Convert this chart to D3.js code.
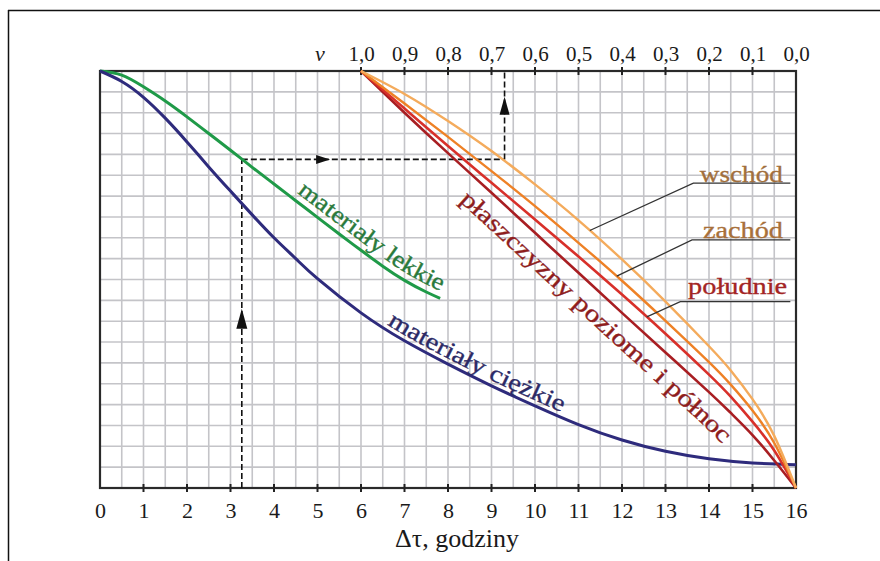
<!DOCTYPE html>
<html><head><meta charset="utf-8">
<script src="https://cdn.jsdelivr.net/npm/d3@7"></script>
<style>body{margin:0;background:#fff}svg{display:block}</style>
</head><body><svg id="c" width="880" height="561"></svg>
<script>
// ---------- data ----------
const xTicks = d3.range(0, 17);               // Δτ, godziny
const vTicks = [1.0,0.9,0.8,0.7,0.6,0.5,0.4,0.3,0.2,0.1,0.0];

const tauLight = [0,0.5,1,1.5,2,2.5,3,3.5,4,4.5,5,5.5,6,6.5,7,7.5,7.82];
const valLight = [1,0.99,0.962,0.928,0.89,0.85,0.81,0.769,0.729,0.689,0.649,0.609,0.57,0.532,0.498,0.47,0.455];

const tauHeavy = [0,0.5,1,1.5,2,2.5,3,3.5,4,4.5,5,6,7,8,9,10,11,12,13,14,15,16];
const valHeavy = [1,0.975,0.937,0.887,0.83,0.77,0.712,0.655,0.6,0.55,0.502,0.42,0.353,0.297,0.245,0.197,0.152,0.115,0.088,0.07,0.06,0.056];

const tauV = [6,7,8,9,10,11,12,13,14,14.5,15,15.5,16];
const valWschod   = [1,0.945,0.88,0.808,0.728,0.642,0.548,0.447,0.34,0.282,0.213,0.125,0];
const valZachod   = [1,0.922,0.842,0.76,0.676,0.588,0.497,0.401,0.302,0.248,0.186,0.108,0];
const valPoludnie = [1,0.91,0.82,0.732,0.644,0.555,0.464,0.37,0.272,0.219,0.159,0.09,0];
const valPoziome  = [1,0.9,0.803,0.708,0.612,0.516,0.42,0.325,0.23,0.18,0.127,0.066,0];

// example reading (dashed guide)
const guideTau = [3.26, 9.3];
const guideVal = 0.788;

// ---------- layout ----------
const svg = d3.select("#c");
const L = 100, R = 796, T = 71, B = 488;
const x = d3.scaleLinear().domain([0,16]).range([L,R]);
const y = d3.scaleLinear().domain([0,1]).range([B,T]);
const vx = d3.scaleLinear().domain([1,0]).range([x(6), x(16)]);
const serif = "'Liberation Serif','Times New Roman',serif";

// outer frame
svg.append("line").attr("x1",8.5).attr("x2",8.5).attr("y1",10).attr("y2",561).attr("stroke","#111").attr("stroke-width",1.5);
svg.append("line").attr("x1",8).attr("x2",880).attr("y1",10.5).attr("y2",10.5).attr("stroke","#111").attr("stroke-width",1.5);

// grid
const g = svg.append("g");
g.selectAll(".gv").data(d3.range(0.5,16,0.5)).join("line")
  .attr("x1",d=>x(d)).attr("x2",d=>x(d)).attr("y1",T).attr("y2",B)
  .attr("stroke","#c4c4c8").attr("stroke-width",1.6);
g.selectAll(".gh").data(d3.range(1,20).map(i=>i*0.05)).join("line")
  .attr("y1",d=>y(d)).attr("y2",d=>y(d)).attr("x1",L).attr("x2",R)
  .attr("stroke","#c4c4c8").attr("stroke-width",1.6);

// frame
svg.append("rect").attr("x",L).attr("y",T).attr("width",R-L).attr("height",B-T)
  .attr("fill","none").attr("stroke","#2a2a2a").attr("stroke-width",2.2);

// bottom axis
const xAxis = d3.axisBottom(x).tickValues(xTicks).tickSize(0).tickPadding(14);
const ax = svg.append("g").attr("transform",`translate(0,${B})`).call(xAxis);
ax.select(".domain").remove();
ax.selectAll("text").attr("font-family",serif).attr("font-size",22).attr("fill","#1a1a1a");
svg.selectAll(".bt").data(xTicks.slice(1,16)).join("line")
  .attr("x1",d=>x(d)).attr("x2",d=>x(d)).attr("y1",B-4).attr("y2",B+4).attr("stroke","#222").attr("stroke-width",2);

// top axis (v)
const vAxis = d3.axisTop(vx).tickValues(vTicks).tickSize(0).tickPadding(10)
  .tickFormat(d=>d3.format(".1f")(d).replace(".",","));
const at = svg.append("g").attr("transform",`translate(0,${T})`).call(vAxis);
at.select(".domain").remove();
at.selectAll("text").attr("font-family",serif).attr("font-size",21).attr("fill","#1a1a1a");
svg.selectAll(".tt").data(vTicks.slice(0,10)).join("line")
  .attr("x1",d=>vx(d)).attr("x2",d=>vx(d)).attr("y1",T-4).attr("y2",T+4).attr("stroke","#222").attr("stroke-width",2);
svg.append("text").attr("x",vx(1)-41).attr("y",T-10).attr("text-anchor","middle")
  .attr("font-family",serif).attr("font-style","italic").attr("font-size",22).attr("fill","#1a1a1a").text("v");

// axis title
svg.append("text").attr("x",457).attr("y",547).attr("text-anchor","middle")
  .attr("font-family",serif).attr("font-size",26).attr("fill","#1a1a1a").text("Δτ, godziny");

// dashed guide
const dash = svg.append("g").attr("stroke","#111").attr("stroke-width",1.6).attr("stroke-dasharray","6,3").attr("fill","none");
dash.append("line").attr("x1",x(guideTau[0])).attr("x2",x(guideTau[0])).attr("y1",y(0)).attr("y2",y(guideVal));
dash.append("line").attr("x1",x(guideTau[0])).attr("x2",x(guideTau[1])).attr("y1",y(guideVal)).attr("y2",y(guideVal));
dash.append("line").attr("x1",x(guideTau[1])).attr("x2",x(guideTau[1])).attr("y1",y(guideVal)).attr("y2",y(1));

// curves
const line = d3.line().x(d=>x(d[0])).y(d=>y(d[1])).curve(d3.curveNatural);
const zip = (a,b)=>a.map((v,i)=>[v,b[i]]);
const series = [
  {id:"light", d:zip(tauLight,valLight), c:"#1f9a48", w:3},
  {id:"heavy", d:zip(tauHeavy,valHeavy), c:"#2e2b7c", w:3},
  {id:"poziome", d:zip(tauV,valPoziome), c:"#a81e22", w:2.6},
  {id:"poludnie", d:zip(tauV,valPoludnie), c:"#d8302a", w:2.6},
  {id:"zachod", d:zip(tauV,valZachod), c:"#ee8126", w:2.4},
  {id:"wschod", d:zip(tauV,valWschod), c:"#f4ab5c", w:2.4}
];
svg.append("g").selectAll("path").data(series).join("path")
  .attr("id",d=>"p-"+d.id).attr("d",d=>line(d.d))
  .attr("fill","none").attr("stroke",d=>d.c).attr("stroke-width",d=>d.w);

// arrows
function arrow(px,py,dir,len,wid){
  let p;
  if(dir==="up") p=[[px,py],[px-wid/2,py+len],[px+wid/2,py+len]];
  else p=[[px,py],[px-len,py-wid/2],[px-len,py+wid/2]];
  svg.append("path").attr("d","M"+p.join("L")+"Z").attr("fill","#111");
}
arrow(x(guideTau[0]), y(0.43), "up", 20, 11);
arrow(x(5.29), y(guideVal), "right", 14, 9);
arrow(x(guideTau[1]), y(0.938), "up", 18, 10);

// curve labels along paths (helper paths extended slightly beyond curve ends)
const defs = svg.append("defs");
function helper(id, data, ext){
  const n=data.length, a=data[n-2], b=data[n-1];
  const dx=x(b[0])-x(a[0]), dy=y(b[1])-y(a[1]), l=Math.hypot(dx,dy);
  defs.append("path").attr("id","h-"+id).attr("d", line(data)+`l${dx/l*ext},${dy/l*ext}`);
}
helper("light", series[0].d, 30);
helper("heavy", series[1].d, 30);
helper("poziome", series[2].d, 30);
function pathLabel(id, txt, col, off, dy, len){
  svg.append("text").attr("font-family",serif).attr("font-size",24).attr("fill",col)
    .attr("stroke",col).attr("stroke-width",0.35)
    .attr("dy",dy)
    .append("textPath").attr("href","#h-"+id).attr("startOffset",off)
    .attr("textLength",len).attr("lengthAdjust","spacingAndGlyphs").text(txt);
}
pathLabel("light","materiały lekkie","#2a7a3c",233,-7,176);
pathLabel("heavy","materiały ciężkie","#2c2a66",386,-5,196);
pathLabel("poziome","płaszczyzny poziome i północ","#8e1d1d",160,28,360);

// side labels with leaders
const sideLabels = [
  {txt:"wschód", col:"#a26f3c", lx:13.79, ly:0.734, uy:0.731, ux:13.64, tau:11.26, dat:zip(tauV,valWschod), len:83},
  {txt:"zachód", col:"#a8703a", lx:13.86, ly:0.6, uy:0.595, ux:13.61, tau:11.88, dat:zip(tauV,valZachod), len:80},
  {txt:"południe", col:"#a32424", lx:13.52, ly:0.465, uy:0.447, ux:13.34, tau:12.57, dat:zip(tauV,valPoludnie), len:99}
];
function interp(data,t){
  for(let i=1;i<data.length;i++){ if(t<=data[i][0]){const a=data[i-1],b=data[i];return a[1]+(b[1]-a[1])*(t-a[0])/(b[0]-a[0]);} }
  return data[data.length-1][1];
}
sideLabels.forEach(s=>{
  svg.append("text").attr("x",x(s.lx)).attr("y",y(s.ly)).attr("font-family",serif).attr("font-size",24)
    .attr("fill",s.col).attr("stroke",s.col).attr("stroke-width",0.35)
    .attr("textLength",s.len).attr("lengthAdjust","spacingAndGlyphs").text(s.txt);
  const ux0 = x(s.ux), ux1 = x(15.87), uy = y(s.uy);
  svg.append("polyline").attr("points",[[ux1,uy],[ux0,uy],[x(s.tau),y(interp(s.dat,s.tau))]].join(" "))
    .attr("fill","none").attr("stroke","#333").attr("stroke-width",1.3);
});
</script></body></html>
